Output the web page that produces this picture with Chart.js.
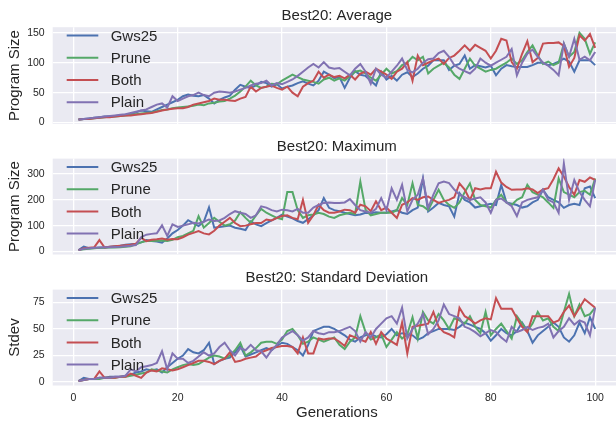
<!DOCTYPE html>
<html>
<head>
<meta charset="utf-8">
<script src="https://cdn.jsdelivr.net/npm/chart.js@4.4.1/dist/chart.umd.min.js"></script>
<style>
  html, body { margin: 0; padding: 0; background: #fff; overflow: hidden; }
  #wrap { position: relative; width: 616px; height: 425px; overflow: hidden; }
  #wrap canvas { position: absolute; left: 0; top: 0; }
</style>
</head>
<body>
<div id="wrap">
  <canvas id="chartAvg" width="625" height="425" style="width:625px;height:425px"></canvas>
  <canvas id="chartMax" width="625" height="425" style="width:625px;height:425px"></canvas>
  <canvas id="chartStd" width="625" height="425" style="width:625px;height:425px"></canvas>
</div>
<script>
// ---- data ----
const generations = Array.from({ length: 100 }, (_, i) => i + 1);
const seriesNames = ['Gws25', 'Prune', 'Both', 'Plain'];
const seriesColors = ['#4C72B0', '#55A868', '#C44E52', '#8172B2'];
const xTicks = [0, 20, 40, 60, 80, 100];

// Best20: Average
const avgTicks = [0, 50, 100, 150];
const avgGws25 = [
  5, 6, 7, 8, 9, 10, 10, 11, 12, 13,
  14, 17, 20, 19, 18, 22, 26, 30, 34, 38,
  44, 47, 45, 44, 46, 40, 32, 38, 42, 45,
  55, 63, 60, 58, 62, 68, 66, 60, 64, 57,
  60, 62, 66, 69, 65, 62, 70, 85, 80, 74,
  76, 58, 75, 86, 80, 78, 70, 62, 85, 72,
  78, 70, 80, 84, 76, 82, 90, 95, 104, 104,
  104, 88, 95, 98, 112, 90, 96, 94, 92, 95,
  79, 90, 96, 94, 93, 93, 93, 96, 100, 100,
  96, 98, 102, 107, 102, 85, 104, 104, 104, 96
];
const avgPrune = [
  5, 6, 6, 7, 8, 9, 10, 10, 11, 12,
  13, 14, 15, 16, 17, 19, 21, 22, 24, 25,
  26, 27, 28, 30, 29, 32, 33, 35, 36, 40,
  45, 52, 60, 70, 62, 58, 60, 65, 64, 70,
  75, 80, 76, 72, 70, 68, 65, 72, 75, 70,
  74, 70, 78, 85, 87, 82, 75, 70, 80, 90,
  82, 86, 96, 100, 110, 104, 110, 82, 90, 95,
  100, 92, 80, 73, 90, 107, 95, 90, 85, 88,
  90, 95, 100, 107, 98, 104, 118, 129, 112, 98,
  102, 96, 100, 132, 110, 118, 150, 140, 115, 134
];
const avgBoth = [
  5, 6, 6, 7, 8, 9, 9, 10, 11, 12,
  12, 13, 14, 15, 16, 18, 20, 22, 23, 24,
  24, 26, 30, 32, 34, 36, 40, 38, 38, 37,
  36, 40, 43, 60, 52, 58, 60, 62, 58, 55,
  60, 50, 44, 60, 66, 70, 85, 75, 80, 76,
  78, 74, 80, 72, 82, 85, 80, 90, 85, 80,
  73, 85, 90, 101, 70, 112, 96, 100, 104, 107,
  98, 108, 112, 120, 129, 120, 130, 125, 120, 107,
  120, 140, 137, 101, 90, 115, 136, 101, 108, 132,
  133, 133, 134, 128, 93, 108, 146, 137, 148, 125
];
const avgPlain = [
  5, 6, 7, 8, 9, 10, 11, 12, 13, 14,
  16, 18, 20, 22, 26, 30, 32, 25, 44, 36,
  40, 44, 46, 50, 46, 44, 50, 52, 51, 50,
  52, 55, 58, 62, 65, 66, 70, 62, 66, 64,
  68, 72, 78, 85, 92, 98, 92, 101, 92, 90,
  91, 85, 79, 90, 98, 85, 65, 90, 80, 75,
  85, 95, 107, 88, 84, 90, 100, 106, 107, 116,
  120, 110, 96, 90, 86, 82, 90, 107, 100, 95,
  100, 105, 110, 123, 79, 100, 115, 122, 110, 100,
  95, 88, 79, 132, 110, 140, 105, 110, 104, 118
];

// Best20: Maximum
const maxTicks = [0, 100, 200, 300];
const maxGws25 = [
  5, 19, 12, 13, 14, 15, 18, 20, 22, 26,
  28, 30, 35, 44, 40, 38, 34, 50, 70, 83,
  100, 121, 110, 98, 115, 171, 92, 95, 98, 100,
  92, 88, 83, 117, 105, 98, 110, 120, 130, 143,
  135, 128, 118, 111, 125, 140, 160, 207, 169, 160,
  156, 150, 145, 140, 143, 150, 148, 152, 150, 150,
  155, 160, 150, 145, 160, 170, 283, 155, 170, 188,
  180, 175, 135, 226, 200, 190, 170, 175, 180, 185,
  180, 258, 190, 185, 180, 170, 175, 190, 200, 239,
  210, 200, 190, 169, 180, 185, 180, 245, 252, 207
];
const maxPrune = [
  5, 8, 10, 12, 14, 14, 15, 15, 16, 18,
  20, 28, 35, 40, 40, 41, 42, 40, 45, 55,
  60, 70, 80, 137, 92, 110, 130, 115, 100, 105,
  120, 152, 130, 111, 140, 165, 150, 140, 130, 125,
  230, 230, 160, 130, 140, 143, 150, 145, 135, 130,
  140, 145, 150, 145, 271, 162, 140, 145, 150, 150,
  150, 160, 207, 180, 264, 180, 175, 160, 200, 239,
  200, 180, 169, 190, 230, 264, 200, 180, 175, 170,
  200, 220, 190, 180, 200, 210, 258, 230, 220, 210,
  190, 169, 283, 230, 220, 210, 230, 235, 220, 283
];
const maxBoth = [
  5, 12, 14, 16, 44, 15, 18, 20, 22, 24,
  26, 30, 53, 40, 45, 47, 50, 45, 48, 47,
  55, 65, 72, 79, 70, 66, 80, 100, 115, 130,
  110, 98, 100, 105, 110, 110, 124, 120, 130, 137,
  140, 130, 125, 200, 111, 140, 181, 160, 150, 150,
  155, 162, 160, 150, 181, 175, 156, 194, 160, 170,
  150, 130, 181, 190, 207, 200, 210, 213, 200, 188,
  195, 200, 210, 264, 240, 200, 245, 240, 245, 245,
  309, 267, 250, 239, 240, 240, 245, 240, 226, 240,
  245, 280, 322, 290, 250, 220, 277, 270, 287, 277
];
const maxPlain = [
  5, 10, 12, 14, 15, 16, 16, 17, 18, 20,
  22, 25, 55, 65, 68, 70, 101, 60, 105, 95,
  100, 105, 111, 108, 115, 124, 118, 120, 130, 145,
  156, 150, 145, 130, 140, 175, 170, 160, 155, 162,
  160, 155, 165, 150, 150, 170, 180, 188, 190, 188,
  188, 190, 203, 180, 160, 155, 150, 165, 207, 160,
  245, 200, 258, 156, 200, 220, 283, 169, 220, 264,
  271, 265, 240, 220, 210, 200, 205, 210, 190, 150,
  200, 205, 190, 175, 137, 190, 200, 205, 210, 239,
  200, 190, 150, 341, 200, 277, 230, 200, 175, 277
];

// Best20: Standard Deviation
const sdTicks = [0, 25, 50, 75];
const sdGws25 = [
  1, 4, 3, 3, 4, 4, 5, 5, 5, 6,
  7, 9, 10, 12, 11, 12, 9, 14, 18, 22,
  25, 31, 28, 27, 30, 37, 17, 20, 22, 23,
  28, 34, 24, 26, 28, 30, 32, 30, 34, 37,
  36, 33, 30, 25, 35, 48, 50, 52, 52, 50,
  47, 44, 40, 38, 42, 44, 45, 43, 42, 45,
  50, 44, 46, 45, 44, 40, 42, 46, 48, 50,
  50, 50, 49, 52, 56, 54, 52, 50, 46, 39,
  44, 50, 46, 44, 48, 56, 48, 37, 44, 48,
  52, 56, 52, 42, 38, 44, 56, 46, 61, 50
];
const sdPrune = [
  1, 2, 3, 3, 3, 4, 4, 4, 5, 5,
  6, 7, 8, 9, 12, 11, 10, 9, 12, 14,
  16, 17, 16, 17, 20, 23, 25, 24, 22, 25,
  30, 37, 25, 28, 32, 37, 38, 38, 36, 40,
  48, 50, 44, 36, 38, 42, 40, 38, 40, 42,
  35, 31, 38, 42, 62, 47, 40, 42, 45, 33,
  40, 47, 41, 45, 61, 41, 66, 58, 55, 64,
  58, 50, 60, 58, 55, 62, 52, 46, 66, 44,
  50, 55, 48, 41, 62, 55, 48, 55, 66, 58,
  60, 52, 48, 66, 83, 62, 73, 62, 64, 70
];
const sdBoth = [
  1, 2, 3, 3, 10, 4, 4, 4, 5, 5,
  8, 6, 4, 9, 11, 10, 13, 12, 11, 12,
  14, 16, 18, 20, 20, 19, 17, 20, 22, 28,
  19, 20, 22, 23, 24, 28, 30, 32, 33, 34,
  34, 33, 27, 42, 27, 27, 41, 40, 41, 41,
  38, 34, 44, 42, 40, 38, 47, 36, 47, 41,
  38, 35, 56, 27, 52, 53, 54, 55, 66, 52,
  47, 45, 42, 70, 62, 59, 55, 58, 60, 59,
  79, 69, 69, 69, 60, 52, 47, 62, 62, 62,
  62, 56, 58, 66, 72, 62, 70, 78, 74, 70
];
const sdPlain = [
  1, 2, 3, 3, 4, 4, 4, 5, 5, 6,
  12, 10, 14, 15, 16, 18, 29, 12, 27, 22,
  22, 18, 20, 24, 28, 25, 27, 33, 37, 30,
  25, 32, 30, 35, 30, 29, 23, 30, 35, 42,
  45, 48, 44, 39, 42, 48, 46, 45, 47, 47,
  48, 50, 52, 48, 38, 47, 42, 50, 55, 60,
  62, 55, 70, 41, 50, 55, 64, 45, 50, 58,
  73, 64, 62, 60, 52, 50, 47, 43, 46, 49,
  47, 42, 38, 52, 47, 49, 52, 49, 51, 52,
  55, 42, 48, 52, 60, 54, 58, 56, 44, 70
];

// ---- styling ----
const FONT = '"Liberation Sans", Arial, sans-serif';
const INK = '#262626';
Chart.defaults.font.family = FONT;
Chart.defaults.color = INK;

// grey plot background (seaborn darkgrid look)
const plotBackground = {
  id: 'plotBackground',
  beforeDraw(chart) {
    const { ctx, chartArea: a } = chart;
    ctx.save();
    ctx.fillStyle = '#EAEAF2';
    ctx.fillRect(a.left, a.top, a.right - a.left, a.bottom - a.top);
    ctx.restore();
  }
};

// frameless legend in the upper-left corner of the plot
const insideLegend = {
  id: 'insideLegend',
  afterDatasetsDraw(chart) {
    const { ctx, chartArea: a } = chart;
    ctx.save();
    ctx.font = '15px ' + FONT;
    ctx.textBaseline = 'middle';
    chart.data.datasets.forEach((ds, i) => {
      const y = a.top + 8.4 + i * 22.2;
      ctx.strokeStyle = ds.borderColor;
      ctx.lineWidth = 2;
      ctx.beginPath();
      ctx.moveTo(a.left + 14, y);
      ctx.lineTo(a.left + 45.6, y);
      ctx.stroke();
      ctx.fillStyle = INK;
      ctx.fillText(ds.label, a.left + 58, y + 1);
    });
    ctx.restore();
  }
};

function makePanel(id, opts) {
  const seriesData = opts.series;
  const datasets = seriesNames.map((name, i) => ({
    label: name,
    data: seriesData[i].map((v, j) => ({ x: generations[j], y: v })),
    borderColor: seriesColors[i],
    backgroundColor: seriesColors[i],
    borderWidth: 2,
    pointRadius: 0,
    tension: 0,
    order: seriesNames.length - i
  }));

  return new Chart(document.getElementById(id), {
    type: 'line',
    data: { datasets },
    plugins: [plotBackground, insideLegend],
    options: {
      responsive: false,
      animation: false,
      devicePixelRatio: 1,
      layout: { padding: { top: opts.top, bottom: opts.bottom, left: 0, right: 4 } },
      plugins: {
        legend: { display: false },
        tooltip: { enabled: false },
        title: {
          display: true,
          text: opts.title,
          fullSize: false,
          color: INK,
          font: { size: 15, weight: 'normal' },
          padding: { top: 0, bottom: 2.4 }
        }
      },
      scales: {
        x: {
          type: 'linear',
          min: -3.95,
          max: 104.95,
          afterBuildTicks: (s) => { s.ticks = xTicks.map(v => ({ value: v })); },
          afterFit: (s) => { s.height = opts.showX ? 39.5 : 0; },
          border: { display: false },
          grid: { color: '#FFFFFF', lineWidth: 1.3, drawTicks: false },
          ticks: { display: opts.showX, autoSkip: false, padding: 6, color: INK, font: { size: 10.5 } },
          title: {
            display: opts.showX,
            text: 'Generations',
            color: INK,
            font: { size: 15 },
            padding: { top: 0, bottom: 3 }
          }
        },
        y: {
          min: opts.yMin,
          max: opts.yMax,
          afterBuildTicks: (s) => { s.ticks = opts.yTicks.map(v => ({ value: v })); },
          afterFit: (s) => { s.width = 52.7; },
          border: { display: false },
          grid: { color: '#FFFFFF', lineWidth: 1.3, drawTicks: false },
          ticks: { autoSkip: false, padding: 8, color: INK, font: { size: 10.5 } },
          title: {
            display: true,
            text: opts.yLabel,
            color: INK,
            font: { size: 15 },
            padding: { top: 6, bottom: 0 }
          }
        }
      }
    }
  });
}

makePanel('chartAvg', {
  title: 'Best20: Average', yLabel: 'Program Size',
  series: [avgGws25, avgPrune, avgBoth, avgPlain],
  yTicks: avgTicks, yMin: -2.4, yMax: 159.4,
  top: 6.8, bottom: 301, showX: false
});

makePanel('chartMax', {
  title: 'Best20: Maximum', yLabel: 'Program Size',
  series: [maxGws25, maxPrune, maxBoth, maxPlain],
  yTicks: maxTicks, yMin: -12, yMax: 360,
  top: 138.2, bottom: 170.5, showX: false
});

makePanel('chartStd', {
  title: 'Best20: Standard Deviation', yLabel: 'Stdev',
  series: [sdGws25, sdPrune, sdBoth, sdPlain],
  yTicks: sdTicks, yMin: -3.2, yMax: 87,
  top: 269.2, bottom: 0, showX: true
});
</script>
</body>
</html>
